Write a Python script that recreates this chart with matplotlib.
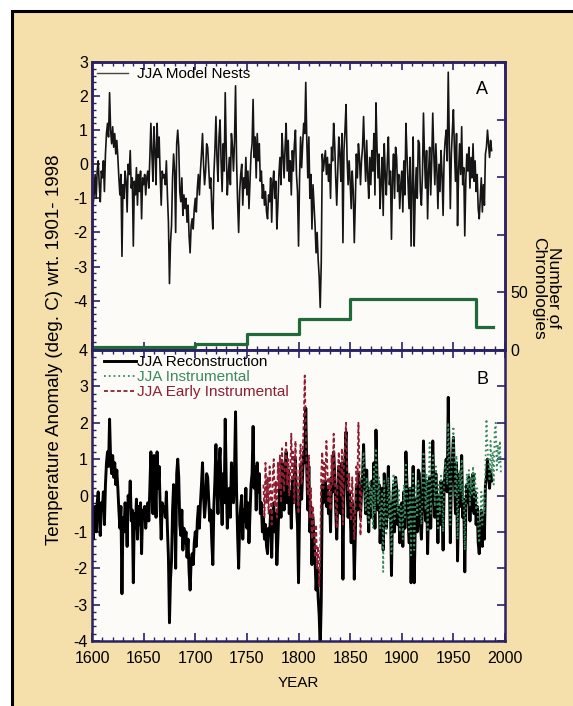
import numpy as np
import matplotlib
matplotlib.use("Agg")
import matplotlib.pyplot as plt
from matplotlib.patches import Rectangle
from matplotlib.lines import Line2D
from matplotlib.ticker import MultipleLocator

plt.rcParams['font.family'] = ['Liberation Sans', 'DejaVu Sans']
plt.rcParams['axes.unicode_minus'] = False

# JJA reconstruction (deg C wrt 1901-1998), annual 1600-1987
recon_years = np.arange(1600, 1988)
recon_anom = [
    0.0, -1.2, -0.9, -0.3, -1.0, -0.2, 0.1, -0.6, -1.1, -0.2,   # 1600s
    -0.4, 0.1, -0.8, 0.3, 0.9, 1.2, 0.8, 2.1, 1.0, 0.6,         # 1610s
    1.1, 0.5, 0.9, 0.3, 0.7, 0.2, -0.4, -0.9, -0.3, -2.7,       # 1620s
    -0.6, -1.0, -0.2, -0.5, -1.4, 0.0, -0.3, 0.4, -0.7, -0.4,   # 1630s
    -2.4, -0.5, -0.9, -0.1, -1.2, -0.3, -0.8, -0.2, -1.6, -0.4, # 1640s
    -0.6, -0.3, -0.9, -0.4, -0.2, -0.7, 0.2, 1.2, 0.3, -0.5,    # 1650s
    1.1, 0.4, -0.6, 1.2, 0.2, 0.8, -0.3, -1.2, -0.2, -0.4,      # 1660s
    -0.3, -0.6, 0.1, -0.9, -1.7, -3.5, -2.3, -1.8, -0.4, 0.3,   # 1670s
    -0.2, -2.0, 0.6, 1.0, 0.5, -0.8, -1.1, -0.4, -1.5, -0.9,    # 1680s
    -1.3, -1.0, -1.7, -1.2, -2.1, -2.6, -1.8, -1.6, -1.9, -1.3, # 1690s
    -1.0, -1.4, -0.7, -0.3, -0.9, -0.2, 0.3, 0.9, 0.0, -0.6,    # 1700s
    -0.2, 0.6, 0.5, -0.1, -0.7, -0.4, -1.3, -1.9, -0.3, 0.4,    # 1710s
    1.4, 0.2, -0.5, 0.8, 1.3, 0.1, -0.8, 0.6, -0.2, 2.1,        # 1720s
    0.4, -0.9, -0.3, 0.2, -0.6, 0.9, 0.5, -0.2, 0.7, 2.3,       # 1730s
    0.1, -1.1, -2.0, -0.8, -0.3, 0.0, -1.2, -0.4, -0.7, 0.2,    # 1740s
    -0.9, -0.2, -1.3, -0.5, 0.3, 0.6, 1.9, 0.2, 0.8, -0.4,      # 1750s
    0.9, 0.1, 0.6, -0.5, -0.2, -1.0, -0.6, -1.2, -0.8, -1.4,    # 1760s
    -1.6, -0.9, -1.1, -0.4, -1.7, -0.6, -0.2, -1.0, -0.5, -1.9, # 1770s
    -1.2, -0.3, 0.2, -0.6, 0.9, 0.3, -0.4, 0.5, 1.2, -0.2,      # 1780s
    0.7, -0.5, 0.1, -0.9, 0.4, -0.2, 0.6, 1.0, -0.3, -0.8,      # 1790s
    -2.4, -0.4, 0.8, -0.1, 0.6, 1.2, 0.9, 2.4, 0.7, -0.4,       # 1800s
    0.8, -1.0, -0.3, -1.9, -0.6, -1.2, -1.8, -2.6, -2.0, -2.8,  # 1810s
    -3.3, -4.2, -2.9, 0.3, -0.2, 0.1, 0.4, -0.3, 0.2, -0.5,     # 1820s
    0.0, -1.0, 0.5, 0.1, 1.2, 0.6, -0.4, -1.2, -0.2, 0.8,       # 1830s
    0.3, -0.5, 0.9, -2.3, 0.4, 1.0, 1.75, 0.2, -0.6, 0.1,       # 1840s
    -0.5, -1.3, -0.2, -0.8, -2.3, -1.1, 0.3, -0.4, 0.6, 0.2,    # 1850s
    -0.6, 0.1, 0.5, 1.4, 0.3, -0.5, 0.7, -0.3, -1.0, 0.2,       # 1860s
    -0.6, 0.4, -0.2, 0.9, -0.9, 1.8, 0.5, -0.4, 0.3, -1.3,      # 1870s
    -0.5, 0.2, -1.5, 0.6, -0.3, -0.9, 0.1, 0.8, -0.6, -0.2,     # 1880s
    -2.2, -0.4, 0.3, -1.0, 0.5, 0.2, -0.8, -0.3, -1.3, -0.6,    # 1890s
    -0.2, -1.4, 0.1, -0.9, 1.2, 0.3, -0.5, -1.3, 0.2, -2.4,     # 1900s
    -0.6, 0.8, -2.4, -0.9, -0.1, -1.0, 0.7, 0.6, -0.8, -1.2,    # 1910s
    -0.3, 1.5, 0.2, -0.7, 0.4, -1.6, -0.2, 0.5, -0.9, 0.1,      # 1920s
    1.5, 0.3, -0.6, 0.6, -0.2, -1.3, 0.0, -0.8, 0.4, -0.3,      # 1930s
    -1.5, 0.2, 0.7, 1.0, 0.1, 2.7, 0.6, -1.3, 0.3, 1.0,         # 1940s
    1.6, 0.4, -0.5, 0.9, -1.8, -0.2, 0.6, -0.3, 1.1, -0.6,      # 1950s
    -0.1, -2.1, -0.5, 0.3, -0.2, 0.5, -0.7, 0.2, -0.4, 0.6,     # 1960s
    -0.5, 0.1, -0.8, -0.3, -1.3, -1.6, -1.0, -0.4, -1.4, -0.6,  # 1970s
    -1.2, 0.3, 0.5, 1.0, 0.6, 0.2, 0.7, 0.4,                    # 1980-1987
]

# JJA instrumental, 1861-1996
instr_years = np.arange(1861, 1997)
instr_anom = [
    0.3, 0.8, 1.2, 0.1, -0.4, 0.5, -0.2, -0.8, 0.4,
    -0.3, 0.2, -0.9, 0.85, -0.5, 1.3, 0.4, -0.2, 0.5, -0.9,
    -0.3, 0.1, -2.1, 0.4, -0.6, -1.1, -0.2, 0.5, -0.7, 0.1,
    -1.6, -0.2, 0.6, -0.7, 0.5, -0.1, -0.5, 0.2, -1.0, -0.3,
    -0.4, -1.2, 0.3, -0.6, 0.9, 0.1, -0.3, -1.0, 0.2, -1.7,
    -0.2, 0.6, -1.5, -0.5, 0.3, -0.6, 0.4, 0.1, -0.5, -0.8,
    -0.1, 1.2, 0.4, -0.4, 0.6, -1.0, 0.2, 1.45, -0.5, 0.3,
    1.1, 0.5, -0.3, 0.8, 0.0, -0.9, 0.3, -0.5, 0.6, 0.0,
    -1.0, 0.4, 0.9, 0.7, 0.3, 2.0, 0.8, -0.8, 0.6, 1.2,
    1.9, 0.9, 0.0, 1.1, -1.2, 0.2, 0.7, 0.1, 1.0, -0.2,
    0.3, -1.5, -0.1, 0.6, 0.2, 0.7, -0.3, 0.5, 0.0, 0.8,
    -0.1, 0.6, -0.4, 0.2, -0.9, -1.3, -0.6, 0.1, -0.8, 0.0,
    -0.5, 0.8, 2.1, 1.3, 0.9, 0.4, 1.5, 0.6, 1.2, 0.3,
    1.8, 2.0, 0.7, 1.4, 0.9, 1.5, 0.6,
]

# JJA early instrumental, 1766-1861
early_years = np.arange(1766, 1862)
early_anom = [
    0.3, -0.6, 0.9, -0.2,
    0.5, -0.5, 0.8, 0.0, -0.8, 0.6, 1.0, -0.3, 0.4, -0.6,
    0.9, 0.2, 1.1, -0.2, 1.3, 0.6, 0.1, 1.0, 1.5, 0.3,
    1.0, 0.0, 0.7, 1.7, 0.4, 1.2, -0.2, 1.5, 0.6, 0.1,
    -0.5, 0.9, 1.4, 0.3, 1.1, 2.0, 3.3, 1.8, 0.5, 0.0,
    1.1, -0.6, 0.2, -1.2, -0.3, -1.0, -1.7, -0.8, -2.0, -1.4,
    -2.5, -1.6, 0.6, 1.2, 0.2, 0.9, 0.4, 1.5, 0.7, -0.2,
    0.5, -0.4, 1.1, 0.3, 1.7, 0.8, -0.3, -0.9, 0.6, 1.2,
    0.4, 0.0, 1.3, -0.8, 0.9, 1.4, 2.0, 0.7, 0.1, 0.6,
    -0.2, -0.7, 0.5, -0.4, -1.2, -0.5, 0.8, 0.3, 2.0, 0.9,
    -1.1, 0.2,
]

# number of chronologies in the model nests
nest_years = [1600, 1700, 1750, 1800, 1850, 1972, 1988]
nest_count = [3, 5, 14, 27, 44, 20, 20]

beige = '#F5DFAA'
face = '#FDFBF7'
navy = '#2A2266'
green_step = '#1F6A38'
green_dot = '#3A8A60'
red_dash = '#8E1F33'

fig = plt.figure(figsize=(5.73, 7.06), dpi=100)
fig.patch.set_facecolor('white')
fig.patches.append(Rectangle((12 / 573, -0.05), 1.2, 1 - 11 / 706 + 0.05,
                             transform=fig.transFigure, facecolor=beige,
                             edgecolor='black', linewidth=2.2, zorder=-10))

axA = fig.add_axes([0.1606, 0.5042, 0.7208, 0.4080])
axB = fig.add_axes([0.1606, 0.0921, 0.7208, 0.4121])


def style(ax):
    ax.set_facecolor(face)
    for s in ax.spines.values():
        s.set_color(navy)
        s.set_linewidth(1.8)
    ax.set_xlim(1600, 2000)
    ax.xaxis.set_major_locator(MultipleLocator(50))
    ax.xaxis.set_minor_locator(MultipleLocator(10))
    ax.yaxis.set_minor_locator(MultipleLocator(0.2))
    ax.tick_params(which='both', direction='in', top=True, color=navy,
                   labelsize=11.5, pad=3)
    ax.tick_params(which='major', length=6, width=1.2)
    ax.tick_params(which='minor', length=3, width=1.0)


style(axA)
axA.plot(recon_years, recon_anom, color='#151515', lw=1.2)
axA.set_ylim(-5.45, 3)
axA.set_yticks(range(-4, 4))
axA.tick_params(labelbottom=False)
axA.text(0.945, 0.905, 'A', transform=axA.transAxes, fontsize=13,
         ha='center', va='center')
legA = axA.legend([Line2D([], [], color='#444444', lw=1.0)], ['JJA Model Nests'],
                  loc='upper left', frameon=False, fontsize=11,
                  handlelength=2.0, handletextpad=0.6,
                  borderaxespad=0.15, borderpad=0.2)

axN = axA.twinx()
axN.step(nest_years, nest_count, where='post', color=green_step, lw=2.3)
axN.set_ylim(0, 250)
axN.set_yticks([0, 50, 100, 150, 200, 250])
axN.set_yticklabels(['0', '50', '', '', '', ''])
axN.yaxis.set_minor_locator(MultipleLocator(10))
axN.tick_params(which='both', direction='in', color=navy, labelsize=11.5, pad=4)
axN.tick_params(which='major', length=6, width=1.2)
axN.tick_params(which='minor', length=0)
axA.tick_params(axis='y', which='both', right=False)
for s in axN.spines.values():
    s.set_color(navy)
    s.set_linewidth(1.8)

style(axB)
axB.plot(recon_years, recon_anom, color='black', lw=2.1, label='JJA Reconstruction')
axB.plot(instr_years, instr_anom, color=green_dot, lw=1.3, ls=':', label='JJA Instrumental')
axB.plot(early_years, early_anom, color=red_dash, lw=1.3, ls='--', dashes=(2.2, 1.4),
         label='JJA Early Instrumental')
axB.set_ylim(-4, 4)
axB.set_yticks(range(-4, 5))
axB.tick_params(axis='y', right=True)
axB.tick_params(axis='x', which='major', pad=7)
axB.text(0.945, 0.9, 'B', transform=axB.transAxes, fontsize=13,
         ha='center', va='center')
legB = axB.legend(loc='upper left', frameon=False, fontsize=11,
                  handlelength=2.1, handletextpad=0.1, labelspacing=0.05,
                  borderaxespad=0.1, borderpad=0.25,
                  bbox_to_anchor=(0.015, 1.0))
for txt, col in zip(legB.get_texts(), ['black', green_dot, red_dash]):
    txt.set_color(col)

fig.text(55 / 573, 1 - 350 / 706, 'Temperature Anomaly (deg. C) wrt. 1901- 1998',
         rotation=90, ha='center', va='center', fontsize=13.5)
fig.text(546 / 573, 1 - 288 / 706, 'Number of\nChronologies', rotation=-90,
         ha='center', va='center', fontsize=12.5, linespacing=0.95)
fig.text(298 / 573, 1 - 683 / 706, 'YEAR', ha='center', va='center', fontsize=11)

fig.savefig('out.png', dpi=100)
